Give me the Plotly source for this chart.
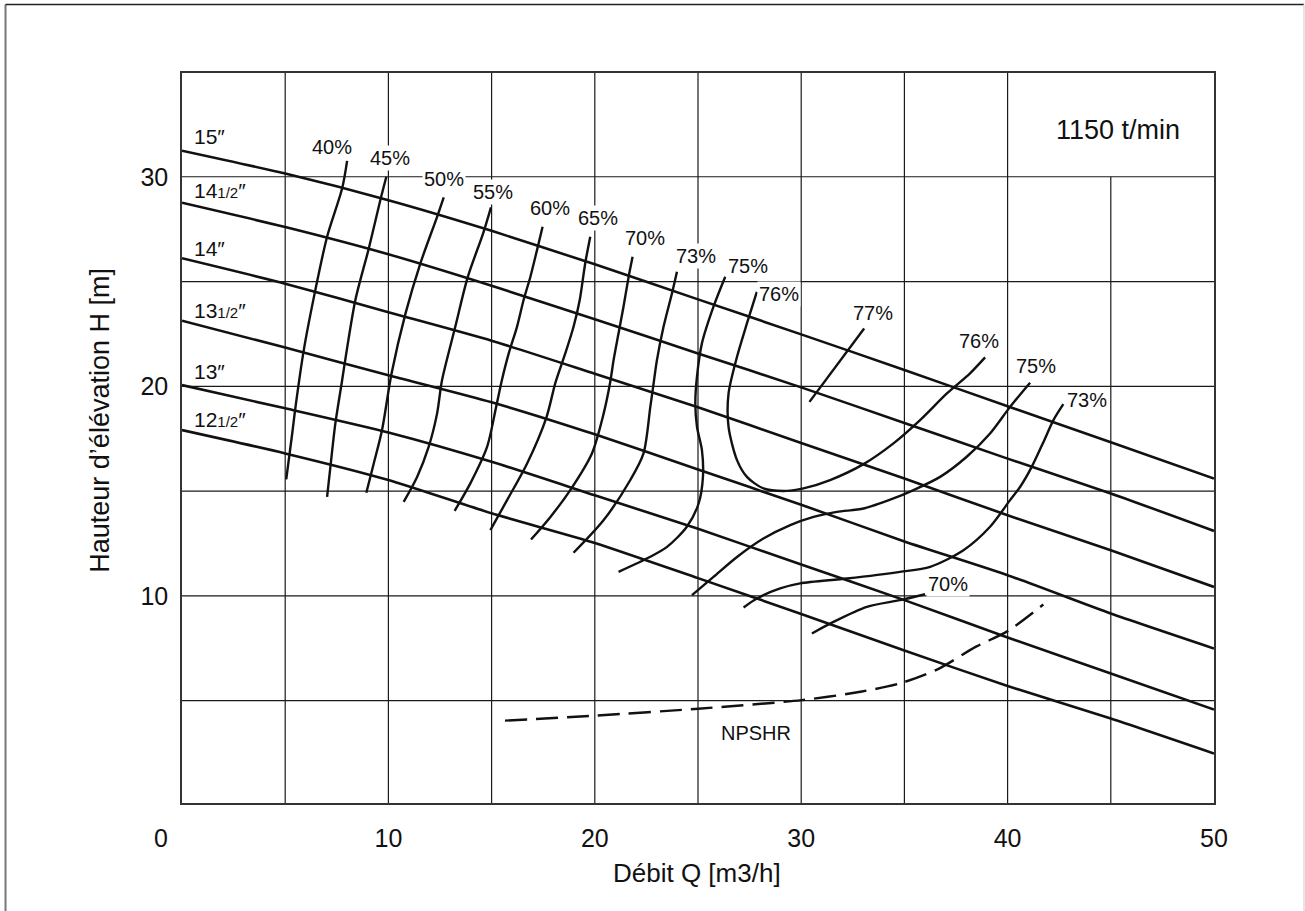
import plotly.graph_objects as go

# ---- Pump characteristic data (Q in m3/h, H in m) ----
Q_HEAD = [0, 5, 10, 15, 20, 25, 30, 35, 40, 45, 50]
H_D15 = [31.24, 30.15, 28.88, 27.42, 25.82, 24.15, 22.48, 20.78, 19.05, 17.33, 15.6]
H_D14_5 = [28.76, 27.6, 26.3, 24.8, 23.2, 21.57, 19.95, 18.25, 16.55, 14.89, 13.1]
H_D14 = [26.11, 24.9, 23.54, 22.18, 20.6, 19.0, 17.3, 15.6, 13.85, 12.18, 10.43]
H_D13_5 = [23.13, 21.85, 20.53, 19.24, 17.71, 16.03, 14.35, 12.6, 10.99, 9.16, 7.49]
H_D13 = [20.06, 18.95, 17.8, 16.4, 14.8, 13.2, 11.5, 9.8, 8.02, 6.3, 4.58]
H_D12_5 = [17.91, 16.8, 15.53, 13.94, 12.53, 10.85, 9.14, 7.4, 5.7, 4.15, 2.48]

# iso-efficiency lines
EFF40_Q = [8.0, 7.76, 7.03, 6.46, 5.9, 5.5, 5.34, 5.05]
EFF40_H = [30.76, 29.45, 27.14, 24.59, 21.73, 19.02, 17.75, 15.56]
EFF45_Q = [9.9, 9.61, 9.05, 8.4, 7.92, 7.76, 7.43, 7.19, 7.03]
EFF45_H = [30.0, 28.89, 26.58, 24.12, 21.33, 20.3, 18.23, 16.16, 14.73]
EFF50_Q = [12.68, 12.36, 11.55, 10.83, 10.15, 9.69, 9.29, 8.93]
EFF50_H = [29.02, 28.09, 25.87, 23.48, 20.6, 17.91, 16.32, 14.92]
EFF55_Q = [14.97, 14.59, 13.85, 13.24, 12.6, 12.36, 11.95, 11.39, 10.74]
EFF55_H = [28.54, 27.3, 25.23, 22.84, 20.3, 18.71, 17.11, 15.68, 14.49]
EFF60_Q = [17.47, 17.2, 16.88, 16.55, 16.23, 15.83, 15.5, 15.22, 14.78, 13.97, 13.21]
EFF60_H = [27.61, 26.5, 25.23, 24.12, 22.84, 21.57, 20.3, 19.02, 17.11, 15.37, 14.06]
EFF65_Q = [19.78, 19.54, 19.27, 18.97, 18.57, 18.1, 17.65, 16.72, 15.75, 14.94]
EFF65_H = [27.14, 25.9, 24.12, 22.84, 21.57, 20.2, 18.5, 16.32, 14.57, 13.14]
EFF70_Q = [21.83, 21.64, 21.39, 21.15, 20.91, 20.75, 20.43, 19.86, 18.81, 17.85, 16.91]
EFF70_H = [26.18, 25.23, 23.8, 22.53, 21.25, 20.22, 18.71, 16.8, 15.05, 13.77, 12.69]
EFF73_Q = [23.98, 23.74, 23.33, 23.01, 22.85, 22.69, 22.36, 21.72, 20.43, 18.97]
EFF73_H = [25.47, 24.44, 22.84, 21.25, 20.14, 19.02, 16.8, 15.53, 13.62, 12.06]
EFF75_Q = [26.32, 25.75, 25.19, 24.95, 24.87, 24.95, 25.19, 25.24, 25.03, 24.46, 23.5, 22.69, 21.15]
EFF75_H = [25.23, 23.8, 22.05, 20.46, 19.19, 18.07, 16.96, 15.68, 14.41, 13.3, 12.34, 11.87, 11.15]
EFF76_Q = [27.85, 27.37, 26.89, 26.48, 26.48, 26.89, 27.37, 28.17, 29.31, 30.11, 31.4,
           33.02, 34.47, 35.76, 37.06, 38.18, 38.91]
EFF76_H = [24.51, 23.0, 21.41, 19.66, 18.07, 16.48, 15.68, 15.13, 15.01, 15.13, 15.53,
           16.29, 17.28, 18.39, 19.66, 20.62, 21.38]
EFF77_Q = [33.05, 30.4]
EFF77_H = [22.76, 19.26]
EFF75R_Q = [24.71, 25.75, 26.89, 28.17, 29.47, 30.6, 31.73, 33.02, 34.47, 35.44, 36.73,
            38.02, 39.15, 40.12, 41.09]
EFF75R_H = [10.04, 10.91, 11.86, 12.74, 13.38, 13.77, 14.01, 14.17, 14.65, 15.05, 15.68,
            16.64, 17.75, 19.02, 20.17]
EFF73R_Q = [27.21, 27.85, 28.98, 29.95, 32.21, 34.79, 36.25, 37.86, 39.15, 40.12, 40.61,
            41.17, 41.74, 42.22, 42.7]
EFF73R_H = [9.45, 9.88, 10.36, 10.6, 10.83, 11.15, 11.39, 12.18, 13.3, 14.57, 15.21,
            16.16, 17.35, 18.39, 19.15]
EFF70R_Q = [30.52, 31.56, 33.18, 34.79, 36.0]
EFF70R_H = [8.21, 8.76, 9.48, 9.8, 10.08]

NPSHR_Q = [15.65, 20.03, 25.01, 30.03, 32.94, 34.86, 36.63, 38.47, 40.0, 41.73]
NPSHR_H = [4.05, 4.29, 4.62, 5.03, 5.44, 5.85, 6.51, 7.58, 8.32, 9.59]

X_TICKS = [10, 20, 30, 40, 50]
Y_TICKS = [10, 20, 30]

FONT = "Liberation Sans"
INK = "#111111"
Q_MAX, H_MIN, H_MAX = 50, 0.12, 34.95

fig = go.Figure()

head_curves = [H_D15, H_D14_5, H_D14, H_D13_5, H_D13, H_D12_5]
for h in head_curves:
    fig.add_trace(go.Scatter(x=Q_HEAD, y=h, mode="lines",
                             line=dict(color=INK, width=2.6, shape="spline", smoothing=0.6),
                             hoverinfo="skip", showlegend=False))

eff_curves = [
    (EFF40_Q, EFF40_H), (EFF45_Q, EFF45_H), (EFF50_Q, EFF50_H), (EFF55_Q, EFF55_H),
    (EFF60_Q, EFF60_H), (EFF65_Q, EFF65_H), (EFF70_Q, EFF70_H), (EFF73_Q, EFF73_H),
    (EFF75_Q, EFF75_H), (EFF76_Q, EFF76_H), (EFF77_Q, EFF77_H), (EFF75R_Q, EFF75R_H),
    (EFF73R_Q, EFF73R_H), (EFF70R_Q, EFF70R_H),
]
for q, h in eff_curves:
    fig.add_trace(go.Scatter(x=q, y=h, mode="lines",
                             line=dict(color=INK, width=2.4, shape="spline", smoothing=0.8),
                             hoverinfo="skip", showlegend=False))

fig.add_trace(go.Scatter(x=NPSHR_Q, y=NPSHR_H, mode="lines",
                         line=dict(color=INK, width=2.4, dash="22px,9px",
                                   shape="spline", smoothing=0.8),
                         hoverinfo="skip", showlegend=False))

# grid drawn as shapes (the 45 line stops under the speed box)
grid = dict(color="#1a1a1a", width=1.2)
for q in range(5, 50, 5):
    top = 30 if q == 45 else H_MAX
    fig.add_shape(type="line", x0=q, x1=q, y0=H_MIN, y1=top, xref="x", yref="y",
                  line=grid, layer="below")
for h in range(5, 35, 5):
    fig.add_shape(type="line", x0=0, x1=Q_MAX, y0=h, y1=h, xref="x", yref="y",
                  line=grid, layer="below")

# page border
fig.add_shape(type="line", xref="paper", yref="paper", x0=-0.1710, x1=-0.1710,
              y0=1.0938, y1=-0.2, line=dict(color="#777777", width=2))
fig.add_shape(type="line", xref="paper", yref="paper", x0=-0.1710, x1=1.0872,
              y0=1.0938, y1=1.0938, line=dict(color="#222222", width=1.5))
fig.add_shape(type="line", xref="paper", yref="paper", x0=1.0872, x1=1.0872,
              y0=1.0938, y1=-0.2, line=dict(color="#dddddd", width=1.5))

# diameter labels
half = '<span style="font-size:15px">1/2</span>'
diam_labels = [("15″", 31.9), ("14" + half + "″", 29.35), ("14″", 26.6),
               ("13" + half + "″", 23.6), ("13″", 20.7), ("12" + half + "″", 18.44)]
for txt, y in diam_labels:
    fig.add_annotation(x=0.5, y=y, text=txt, showarrow=False, xanchor="left",
                       yanchor="middle", font=dict(family=FONT, size=21, color=INK))

# efficiency labels
pct_labels = [
    ("40%", 7.27, 31.42), ("45%", 10.1, 30.88), ("50%", 12.71, 29.89), ("55%", 15.06, 29.28),
    ("60%", 17.81, 28.49), ("65%", 20.15, 28.01), ("70%", 22.45, 27.06), ("73%", 24.9, 26.22),
    ("75%", 27.41, 25.75), ("76%", 28.94, 24.39), ("77%", 33.46, 23.52), ("76%", 38.59, 22.17),
    ("75%", 41.37, 20.98), ("73%", 43.87, 19.34), ("70%", 37.13, 10.55),
]
for txt, x, y in pct_labels:
    fig.add_annotation(x=x, y=y, text=txt, showarrow=False, xanchor="center",
                       yanchor="middle", bgcolor="white", borderpad=1,
                       font=dict(family=FONT, size=20, color=INK))

fig.add_annotation(x=27.8, y=3.45, text="NPSHR", showarrow=False,
                   xanchor="center", yanchor="middle",
                   font=dict(family=FONT, size=20, color=INK))
fig.add_annotation(x=45.35, y=32.23, text="1150 t/min", showarrow=False,
                   xanchor="center", yanchor="middle",
                   font=dict(family=FONT, size=27, color=INK))

# corner zero and axis titles
fig.add_annotation(xref="paper", yref="paper", x=-0.0203, y=-0.0480, text="0",
                   showarrow=False, xanchor="center", yanchor="middle",
                   font=dict(family=FONT, size=25, color=INK))
fig.add_annotation(xref="paper", yref="paper", x=0.499, y=-0.0959, text="Débit Q [m3/h]",
                   showarrow=False, xanchor="center", yanchor="middle",
                   font=dict(family=FONT, size=26, color=INK))
fig.add_annotation(xref="paper", yref="paper", x=-0.0795, y=0.525,
                   text="Hauteur d’élévation H [m]", textangle=-90,
                   showarrow=False, xanchor="center", yanchor="middle",
                   font=dict(family=FONT, size=27, color=INK))

fig.update_xaxes(range=[0, Q_MAX], tickvals=X_TICKS, ticktext=[str(v) for v in X_TICKS],
                 showgrid=False, zeroline=False, showline=True, mirror=True,
                 linecolor="#333333", linewidth=1.6, ticks="", ticklabelstandoff=12,
                 tickfont=dict(family=FONT, size=25, color=INK))
fig.update_yaxes(range=[H_MIN, H_MAX], tickvals=Y_TICKS, ticktext=[str(v) for v in Y_TICKS],
                 showgrid=False, zeroline=False, showline=True, mirror=True,
                 linecolor="#333333", linewidth=1.6, ticks="", ticklabelstandoff=7,
                 tickfont=dict(family=FONT, size=25, color=INK))

fig.update_layout(width=1305, height=911, margin=dict(l=182, r=91, t=73, b=108),
                  plot_bgcolor="white", paper_bgcolor="white", showlegend=False,
                  font=dict(family=FONT))

fig.write_html("out.html")
